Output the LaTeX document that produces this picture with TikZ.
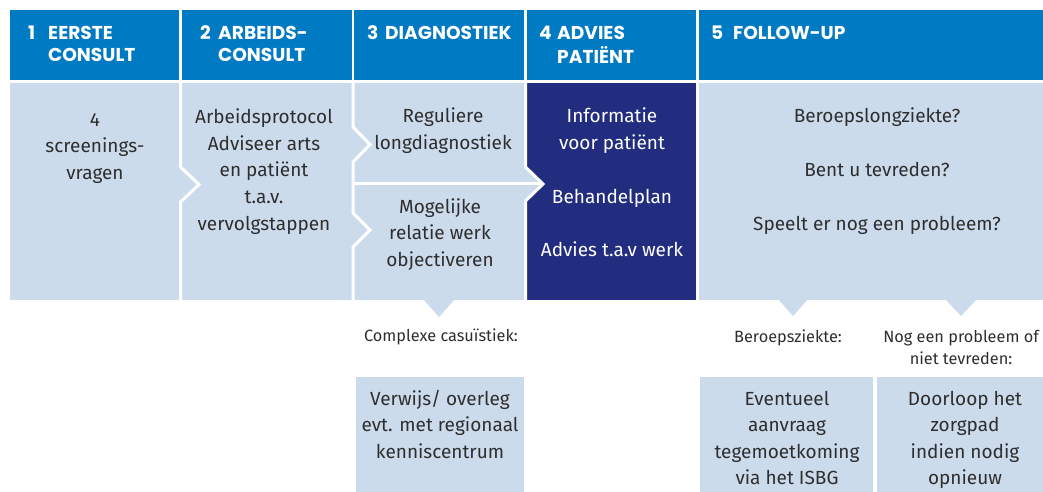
\documentclass[tikz,border=0pt]{standalone}
\usepackage{fontspec}
\setmainfont{Fira Sans}
\newfontfamily\hdrfont{Poppins}
\definecolor{hdrblue}{HTML}{007AC2}
\definecolor{lightblue}{HTML}{CCDBEC}
\definecolor{navy}{HTML}{232D7F}
\definecolor{txt}{HTML}{2E2E2E}
\tikzset{
  hdrtxt/.style={anchor=base west, inner sep=0pt, text=white, font=\hdrfont\bfseries\fontsize{18.6}{22}\selectfont},
  bodytxt/.style={anchor=base, inner sep=0pt, text=txt, font=\fontsize{19}{26.5}\selectfont},
  smalltxt/.style={anchor=base, inner sep=0pt, text=txt, font=\fontsize{16.3}{22}\selectfont},
  sepline/.style={white, line width=3pt},
}
\begin{document}
\begin{tikzpicture}[x=1pt,y=-1pt]
\useasboundingbox (0,0) rectangle (1043,492);
% header band
\fill[hdrblue] (10,10) rectangle (179,80);
\fill[hdrblue] (182,10) rectangle (352,80);
\fill[hdrblue] (354,10) rectangle (524,80);
\fill[hdrblue] (527,10) rectangle (696,80);
\fill[hdrblue] (699,10) rectangle (1043,80);
% body band
\fill[lightblue] (10,83) rectangle (526,300);
\fill[navy] (526,83) rectangle (697,300);
\fill[lightblue] (697,83) rectangle (1043,300);
\fill[lightblue] (524,167) -- (543,184) -- (524,201) -- cycle;
% separators with chevrons
\draw[sepline] (180.5,83) -- (180.5,167) -- (199,184.5) -- (180.5,202) -- (180.5,300);
\draw[sepline] (353,83) -- (353,127) -- (370,144.5) -- (353,162) -- (353,213) -- (370,230) -- (353,247) -- (353,300);
\draw[sepline] (353,183.5) -- (542,183.5);
\draw[sepline] (525.5,83) -- (525.5,167) -- (543,184) -- (525.5,201) -- (525.5,300);
\draw[sepline] (697.5,83) -- (697.5,300);
% down pointers
\fill[lightblue] (423,299) -- (439,317) -- (455,299) -- cycle;
\fill[lightblue] (778,299) -- (793,316) -- (808,299) -- cycle;
\fill[lightblue] (945,299) -- (961,316) -- (977,299) -- cycle;
% bottom boxes
\fill[lightblue] (356,377) rectangle (524,492);
\fill[lightblue] (700,377) rectangle (873,492);
\fill[lightblue] (877,377) rectangle (1043,492);

% header texts
\node[hdrtxt] (h1) at (28,40) {\begin{tabular}[t]{@{}l@{}l@{}}\makebox[20pt][l]{1}&EERSTE\\&CONSULT\end{tabular}};
\node[hdrtxt] (h2) at (200,40) {\begin{tabular}[t]{@{}l@{}l@{}}\makebox[18pt][l]{2}&ARBEIDS-\\&CONSULT\end{tabular}};
\node[hdrtxt] (h3) at (367,40) {\begin{tabular}[t]{@{}l@{}l@{}}\makebox[18pt][l]{3}&DIAGNOSTIEK\end{tabular}};
\node[hdrtxt] (h4) at (539,40) {\begin{tabular}[t]{@{}l@{}l@{}}\makebox[18pt][l]{4}&ADVIES\\&PATIËNT\end{tabular}};
\node[hdrtxt] (h5) at (711,40) {\begin{tabular}[t]{@{}l@{}l@{}}\makebox[22pt][l]{5}&FOLLOW-UP\end{tabular}};

% body texts
\node[bodytxt] (c1) at (95,126) {\begin{tabular}[t]{@{}c@{}}4\\screenings-\\vragen\end{tabular}};
\node[bodytxt] (c2) at (264,124) {\begin{tabular}[t]{@{}c@{}}Arbeidsprotocol\\Adviseer arts\\en patiënt\\t.a.v.\\vervolgstappen\end{tabular}};
\node[bodytxt] (c3a) at (443,123) {\begin{tabular}[t]{@{}c@{}}Reguliere\\longdiagnostiek\end{tabular}};
\node[bodytxt] (c3b) at (440,213) {\begin{tabular}[t]{@{}c@{}}Mogelijke\\relatie werk\\objectiveren\end{tabular}};
\node[bodytxt, text=white] (c4a) at (612,123) {\begin{tabular}[t]{@{}c@{}}Informatie\\voor patiënt\end{tabular}};
\node[bodytxt, text=white] (c4b) at (612,203) {Behandelplan};
\node[bodytxt, text=white] (c4c) at (612,256) {Advies t.a.v werk};
\node[bodytxt] (c5a) at (877,123) {Beroepslongziekte?};
\node[bodytxt] (c5b) at (877,176) {Bent u tevreden?};
\node[bodytxt] (c5c) at (877,230) {Speelt er nog een probleem?};

% labels
\node[smalltxt] (l3) at (441,341) {Complexe casuïstiek:};
\node[smalltxt] (l5a) at (788,342) {Beroepsziekte:};
\node[smalltxt] (l5b) at (961,342) {\begin{tabular}[t]{@{}c@{}}Nog een probleem of\\niet tevreden:\end{tabular}};

% bottom texts
\node[bodytxt] (d3) at (440,405) {\begin{tabular}[t]{@{}c@{}}Verwijs/ overleg\\evt. met regionaal\\kenniscentrum\end{tabular}};
\node[bodytxt] (d5a) at (787,405) {\begin{tabular}[t]{@{}c@{}}Eventueel\\aanvraag\\tegemoetkoming\\via het ISBG\end{tabular}};
\node[bodytxt] (d5b) at (965,405) {\begin{tabular}[t]{@{}c@{}}Doorloop het\\zorgpad\\indien nodig\\opnieuw\end{tabular}};
\end{tikzpicture}
\end{document}
